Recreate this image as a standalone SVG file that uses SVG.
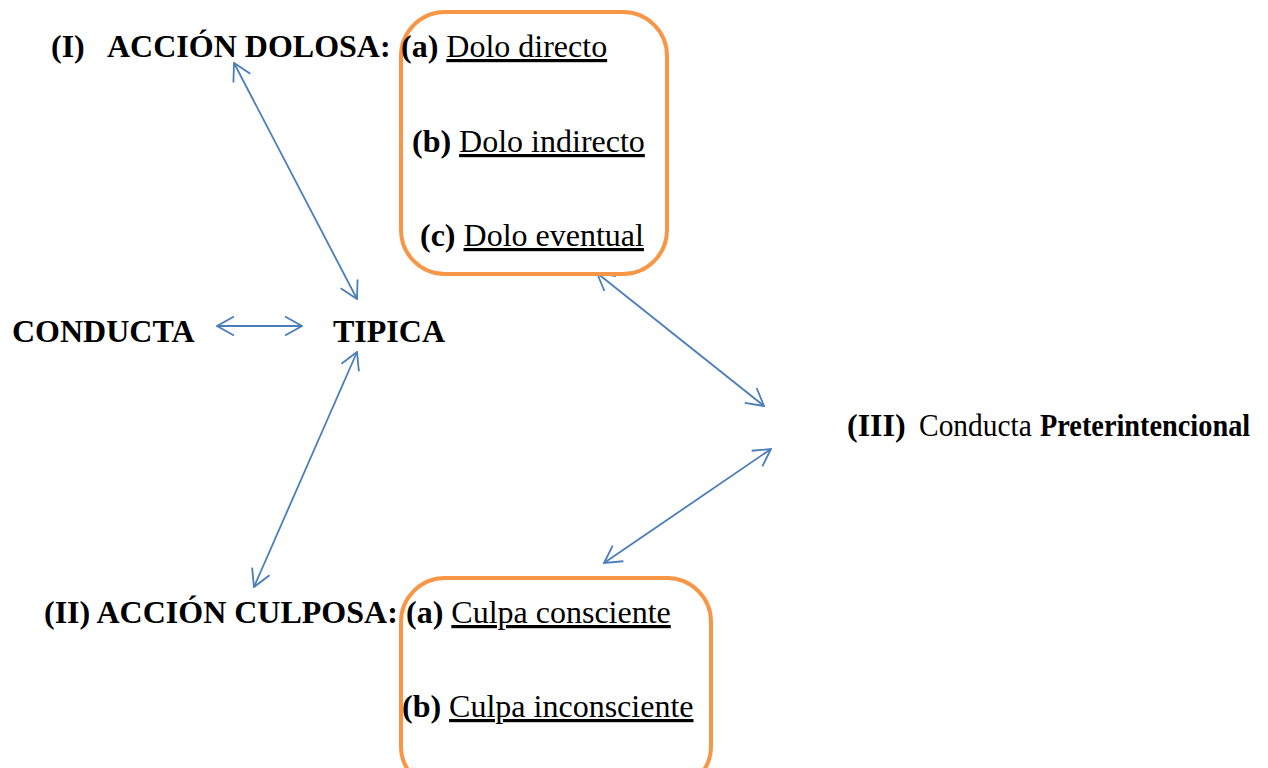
<svg xmlns="http://www.w3.org/2000/svg" width="1268" height="768" viewBox="0 0 1268 768">
<style>
text{font-family:"Liberation Serif","Times New Roman",serif;font-size:32px;fill:#000}
.b{font-weight:bold}
.u{text-decoration:underline}
.box{fill:none;stroke:#F79646;stroke-width:4}
.c{stroke:#4A7EBB;stroke-width:1.8;fill:none}
</style>
<defs>
<marker id="ah" markerUnits="userSpaceOnUse" viewBox="0 0 19 22" refX="18" refY="11" markerWidth="19" markerHeight="22" orient="auto-start-reverse">
<path d="M1,1.5 L18,11 L1,20.5" fill="none" stroke="#4A7EBB" stroke-width="1.8"/>
</marker>
</defs>
<rect width="1268" height="768" fill="#fff"/>
<g id="connectors">
<line class="c" x1="217" y1="326" x2="302" y2="326" marker-start="url(#ah)" marker-end="url(#ah)"/>
<line class="c" x1="234" y1="63" x2="357" y2="299" marker-start="url(#ah)" marker-end="url(#ah)"/>
<line class="c" x1="357" y1="352" x2="254" y2="587" marker-start="url(#ah)" marker-end="url(#ah)"/>
<line class="c" x1="597" y1="273" x2="764" y2="406" marker-start="url(#ah)" marker-end="url(#ah)"/>
<line class="c" x1="771" y1="449" x2="604" y2="563" marker-start="url(#ah)" marker-end="url(#ah)"/>
</g>
<g id="accion-dolosa">
<text x="51" y="57" class="b">(I)</text>
<text x="107" y="57" class="b">ACCIÓN DOLOSA:</text>
</g>
<g id="dolo-box">
<rect class="box" x="401" y="12" width="266" height="262" rx="44"/>
<text x="401" y="57"><tspan class="b">(a)</tspan> <tspan class="u">Dolo directo</tspan></text>
<text x="412" y="152"><tspan class="b">(b)</tspan> <tspan class="u">Dolo indirecto</tspan></text>
<text x="420" y="246"><tspan class="b">(c)</tspan> <tspan class="u">Dolo eventual</tspan></text>
</g>
<g id="conducta">
<text x="12" y="342" class="b">CONDUCTA</text>
</g>
<g id="tipica">
<text x="333" y="342" class="b">TIPICA</text>
</g>
<g id="preterintencional">
<text x="847" y="436" class="b">(III)</text>
<text transform="translate(919,436) scale(0.92,1)">Conducta</text>
<text transform="translate(1040,436) scale(0.885,1)" class="b">Preterintencional</text>
</g>
<g id="accion-culposa">
<text x="44" y="623" class="b">(II) ACCIÓN CULPOSA:</text>
</g>
<g id="culpa-box">
<rect class="box" x="401" y="578" width="310" height="212" rx="44"/>
<text x="406" y="623"><tspan class="b">(a)</tspan> <tspan class="u">Culpa consciente</tspan></text>
<text x="402" y="717"><tspan class="b">(b)</tspan> <tspan class="u">Culpa inconsciente</tspan></text>
</g>
</svg>
